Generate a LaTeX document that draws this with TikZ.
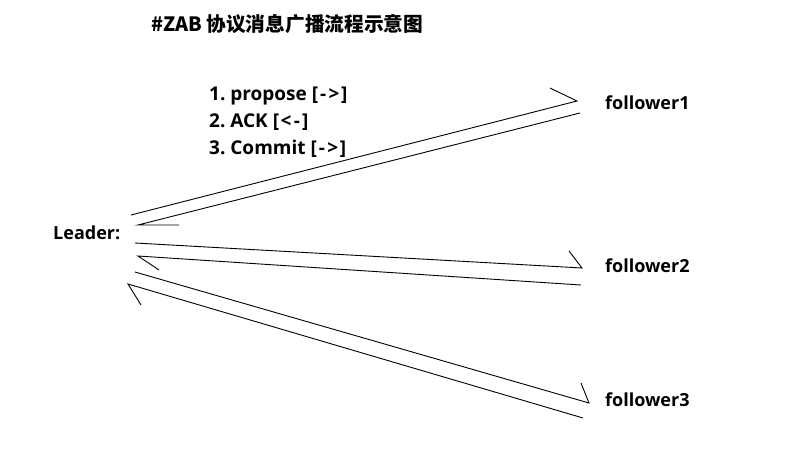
\documentclass[tikz,border=0pt]{standalone}
\usepackage{fontspec}
\setmainfont{Open Sans}
\newfontfamily\cjkfont{Noto Sans CJK SC}
\frenchspacing
\begin{document}
\begin{tikzpicture}[x=1pt,y=-1pt,
  lbl/.style={anchor=base west,inner sep=0pt,font=\fontsize{18}{18}\selectfont\bfseries},
  steptext/.style={anchor=base west,inner sep=0pt,font=\fontsize{19}{19}\selectfont\bfseries},
  ttl/.style={anchor=base west,inner sep=0pt,font=\fontsize{19.7}{19.7}\selectfont\cjkfont\bfseries},
  wire/.style={line width=0.9pt,line join=miter}]
\useasboundingbox[fill=white] (0,0) rectangle (795,473);
\node[ttl] (title) at (151,32) {\#ZAB 协议消息广播流程示意图};
\node[steptext] (s1) at (209,101) {1. propose [\kern2pt-\kern2.5pt>\kern1.5pt]};
\node[steptext] (s2) at (209,128) {2. ACK [\kern1.5pt<\kern2.5pt-\kern2pt]};
\node[steptext] (s3) at (209,155) {3. Commit [\kern2pt-\kern2.5pt>\kern1.5pt]};
\node[lbl] (leader) at (53,240) {Leader:};
\node[lbl] (f1) at (605,110) {follower1};
\node[lbl] (f2) at (605,272) {follower2};
\node[lbl] (f3) at (605,406) {follower3};
% follower1 pair
\coordinate (a0) at (131,215); \coordinate (a1) at (577,101); \coordinate (ab) at (550,88);
\coordinate (b0) at (580,113); \coordinate (b1) at (138,225); \coordinate (bb) at (179,225);
% follower2 pair
\coordinate (c0) at (135,243); \coordinate (c1) at (582,268); \coordinate (cb) at (569,251);
\coordinate (d0) at (581,285); \coordinate (d1) at (138,256); \coordinate (db) at (159,270);
% follower3 pair
\coordinate (e0) at (135,272); \coordinate (e1) at (589,403); \coordinate (eb) at (581,383);
\coordinate (g0) at (583,418); \coordinate (g1) at (128,284); \coordinate (gb) at (141,305);
\draw[wire] (a0) -- (a1) -- (ab);
\draw[wire] (b0) -- (b1) -- (bb);
\draw[wire] (c0) -- (c1) -- (cb);
\draw[wire] (d0) -- (d1) -- (db);
\draw[wire] (e0) -- (e1) -- (eb);
\draw[wire] (g0) -- (g1) -- (gb);
\end{tikzpicture}
\end{document}
